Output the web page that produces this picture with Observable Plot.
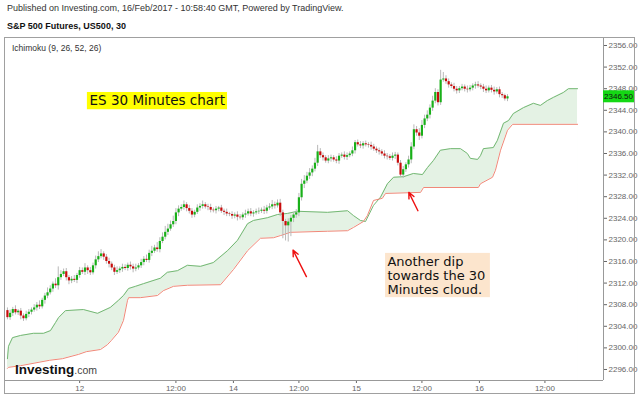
<!DOCTYPE html>
<html><head><meta charset="utf-8">
<script src="https://cdn.jsdelivr.net/npm/d3@7"></script>
<script src="https://cdn.jsdelivr.net/npm/@observablehq/plot@0.6"></script>
<style>
body{margin:0;background:#fff;}
#wrap{position:relative;width:640px;height:396px;overflow:hidden;font-family:"Liberation Sans",Arial,sans-serif;background:#fff;}
.hdr1{position:absolute;left:7px;top:3px;font-size:9px;color:#333;white-space:nowrap;}
.hdr2{position:absolute;left:7px;top:21px;font-size:9px;font-weight:bold;color:#111;white-space:nowrap;}
#chart{position:absolute;left:0;top:37px;}
#frame{position:absolute;left:4px;top:37px;width:631px;height:357px;box-sizing:border-box;border:1px solid #a0a0a0;pointer-events:none;}
.ichi{position:absolute;left:12px;top:43px;font-size:8.5px;color:#333;white-space:nowrap;}
.logo{position:absolute;left:15px;top:360px;white-space:nowrap;}
.logo b{font-size:13.5px;color:#111;font-weight:bold;}
.logo span{font-size:10.5px;color:#444;}
</style></head><body>
<div id="wrap">
  <div class="hdr1">Published on Investing.com, 16/Feb/2017 - 10:58:40 GMT, Powered by TradingView.</div>
  <div class="hdr2">S&amp;P 500 Futures, US500, 30</div>
  <div id="chart"></div>
  <div id="frame"></div>
  <div class="ichi">Ichimoku (9, 26, 52, 26)</div>
  <div class="logo"><b>Investing</b><span>.com</span></div>
</div>
<script>
// ---- data (30-minute bars, indexed by bar number) ----
const firstOpen = 2306.9;
const closes = [
2305.6,2306.4,2307.1,2306.5,2306.8,2305.9,2305.4,2306.2,2306.6,2307.0,
2307.4,2307.9,2307.6,2308.8,2309.6,2310.2,2310.9,2311.8,2311.5,2313.0,
2313.6,2314.1,2313.0,2312.4,2312.7,2312.5,2313.4,2314.3,2314.0,2314.8,
2314.3,2313.9,2315.2,2316.3,2316.9,2317.4,2316.8,2316.0,2315.5,2314.8,
2314.0,2314.3,2314.6,2314.9,2314.7,2315.3,2315.0,2314.6,2314.8,2315.2,
2315.8,2316.4,2316.2,2317.5,2317.9,2318.5,2318.2,2319.7,2320.5,2321.4,
2322.0,2322.8,2323.4,2325.0,2325.7,2326.0,2326.5,2325.8,2325.3,2324.6,
2325.1,2325.9,2326.2,2326.5,2326.1,2326.0,2325.5,2325.4,2325.7,2325.9,
2325.3,2325.1,2324.8,2324.7,2324.4,2324.6,2324.2,2324.1,2324.6,2324.8,
2325.2,2324.8,2325.0,2325.2,2325.3,2325.5,2325.3,2325.9,2326.1,2326.5,
2326.3,2326.8,2325.0,2323.4,2322.6,2323.3,2324.0,2324.6,2325.0,2327.8,
2330.3,2330.9,2331.8,2332.4,2333.1,2334.2,2336.3,2335.6,2335.2,2334.6,
2335.0,2335.2,2334.8,2334.6,2335.5,2335.7,2335.3,2335.6,2335.9,2336.5,
2338.0,2337.6,2337.4,2337.8,2337.6,2337.5,2337.2,2336.8,2336.5,2336.3,
2335.9,2335.5,2335.4,2335.1,2335.5,2335.7,2334.2,2332.0,2333.0,2333.9,
2334.8,2337.2,2340.4,2339.8,2339.2,2341.2,2342.4,2343.1,2344.4,2345.7,
2347.3,2345.4,2349.6,2349.8,2349.3,2348.7,2348.4,2347.9,2347.6,2348.0,
2348.3,2347.9,2347.8,2348.1,2348.5,2348.7,2348.5,2348.3,2347.9,2347.6,
2348.1,2347.7,2347.4,2347.8,2346.9,2346.7,2346.1,2346.5
];
const wickUp = [
0.5,0.6,0.4,0.7,0.3,0.5,0.4,0.6,0.5,0.4,
0.6,0.5,0.8,0.4,0.5,0.9,0.6,0.4,1.0,2.0,
0.7,0.5,0.6,0.4,0.5,0.7,0.4,0.6,0.5,0.8,
0.4,0.6,0.5,0.7,0.9,0.8,0.4,0.5,0.6,0.4,
0.5,0.7,0.4,0.6,0.5,0.4,0.6,0.5,0.7,0.4,
0.6,0.5,0.8,0.6,0.9,0.5,1.0,0.7,0.8,1.1,
0.9,0.7,1.0,0.8,0.6,0.5,0.7,0.4,0.6,0.5,
0.4,0.6,0.5,0.7,0.4,0.5,0.6,0.4,0.5,0.3,
0.5,0.4,0.6,0.3,0.5,0.4,0.6,0.5,0.4,0.7,
0.5,0.6,0.4,0.5,0.6,0.4,0.7,0.5,0.6,0.8,
0.5,0.6,0.7,0.5,0.4,0.6,0.5,0.4,0.6,0.8,
0.9,1.0,0.7,0.8,0.6,0.9,1.2,0.6,0.5,0.4,
0.6,0.5,0.4,0.6,0.5,0.4,0.6,0.5,0.4,0.7,
0.4,0.5,0.6,0.4,0.5,0.4,0.6,0.5,0.4,0.5,
0.4,0.6,0.5,0.4,0.6,0.5,0.4,0.5,0.6,0.4,
0.7,0.8,0.9,0.6,0.8,0.9,0.7,0.8,0.6,0.9,
0.7,0.5,1.8,1.2,0.6,0.5,0.4,0.6,0.5,0.4,
0.5,0.4,0.6,0.5,0.4,0.5,0.6,0.4,0.5,0.6,
0.4,0.5,0.6,0.4,0.5,0.4,0.3,0.4
];
const wickDown = [
0.4,0.5,0.6,0.4,0.5,0.7,0.5,0.4,0.6,0.5,
0.4,0.6,0.5,0.4,0.7,0.5,0.4,0.6,0.5,0.8,
0.5,0.4,0.6,0.7,0.5,0.4,0.6,0.5,0.4,0.6,
0.7,0.5,0.4,0.6,0.5,0.4,0.6,0.5,0.7,0.5,
0.6,0.4,0.5,0.6,0.4,0.5,0.6,0.7,0.5,0.4,
0.5,0.6,0.4,0.5,0.6,0.4,0.5,0.6,0.4,0.5,
0.6,0.4,0.5,0.6,0.7,0.4,0.5,0.6,0.5,0.6,
0.5,0.4,0.6,0.5,0.4,0.6,0.5,0.4,0.6,0.5,
0.4,0.6,0.5,0.4,0.6,0.5,0.7,0.4,0.5,0.6,
0.4,0.5,0.6,0.4,0.5,0.4,0.6,0.5,0.4,0.5,
0.6,0.4,0.7,3.2,2.8,3.0,2.7,0.8,0.6,0.7,
0.6,0.8,0.5,0.6,0.7,0.5,0.6,0.5,0.6,0.4,
0.5,0.6,0.4,0.5,0.6,0.4,0.5,0.6,0.4,0.5,
0.6,0.4,0.5,0.6,0.4,0.5,0.6,0.4,0.5,0.6,
0.4,0.5,0.6,0.4,0.5,0.6,0.5,0.4,0.6,0.5,
0.6,0.7,0.5,0.6,0.8,0.5,0.6,0.5,0.7,0.6,
0.5,0.6,0.5,0.4,0.5,0.6,0.4,0.5,0.6,0.5,
0.4,0.5,0.6,0.4,0.5,0.6,0.4,0.5,0.6,0.5,
0.4,0.5,0.6,0.4,0.6,0.5,0.4,0.5
];
// Ichimoku cloud: Senkou Span A (green) and Senkou Span B (red), bar index / price
const spanABars = [0,0.4,1.9,4.9,9.7,13.5,16.1,18.0,19.1,21.7,28.4,33.7,38.5,41.5,43.4,45.3,47.9,50.9,57.2,59.8,63.6,67.3,72.2,77.0,82.3,86.0,89.8,92.0,97.2,101.0,104.7,108.5,119.7,127.2,129.4,132.0,133.9,136.9,139.5,142.1,144.4,148.1,151.8,155.2,157.1,159.3,161.9,165.7,169.4,172.0,173.1,175.8,176.9,178.0,181.7,183.2,185.5,187.4,189.2,193.0,196.7,199.3,201.9,204.2,207.9,209.8,213.2];
const spanAVals = [2298.0,2300.3,2301.9,2302.3,2302.7,2302.7,2303.2,2304.7,2305.6,2306.9,2307.1,2306.4,2307.5,2308.8,2309.7,2311.0,2311.4,2311.9,2312.9,2314.0,2314.3,2315.3,2315.1,2315.8,2318.0,2319.9,2323.0,2323.6,2324.1,2324.7,2324.9,2325.3,2325.1,2325.4,2324.5,2323.6,2323.4,2326.4,2327.9,2330.4,2331.6,2331.7,2332.3,2332.1,2333.4,2334.7,2336.6,2336.9,2336.9,2336.0,2335.1,2334.9,2335.6,2336.9,2337.1,2338.4,2341.6,2342.1,2343.4,2344.5,2345.3,2344.9,2345.8,2346.4,2347.3,2348.0,2348.0];
const spanBBars = [0,0.4,4.9,15.7,20.6,26.6,29.5,34.8,37.4,38.9,41.5,43.4,44.9,45.3,49.7,56.1,58.3,62.1,67.3,79.7,84.5,89.8,94.6,99.5,102.1,105.8,119.7,127.2,129.4,133.1,134.6,136.9,140.2,141.4,154.5,155.6,176.1,176.9,181.4,182.5,184.4,187.0,188.9,213.2];
const spanBVals = [2296.2,2296.4,2296.7,2297.7,2298.0,2298.8,2299.3,2299.7,2300.6,2301.4,2302.9,2305.1,2308.8,2309.3,2309.3,2309.7,2310.6,2311.4,2311.6,2311.7,2314.5,2318.0,2320.3,2320.4,2320.8,2321.4,2321.6,2321.7,2322.3,2323.4,2324.5,2327.3,2327.7,2328.6,2328.8,2329.7,2329.7,2330.4,2331.6,2332.9,2336.6,2340.3,2341.4,2341.4];
// axes
const yTicks = [2296,2300,2304,2308,2312,2316,2320,2324,2328,2332,2336,2340,2344,2348,2352,2356];
const xTickBars = [27,63,84.5,109,130.5,155,176.5,201];
const xTickLabels = ["12","12:00","14","12:00","15","12:00","16","12:00"];
const xDomain = [-1.1, 222.9];
const yDomain = [2293.96, 2357.48];
// annotations
const noteTexts = ["ES 30 Minutes chart", "Another dip\ntowards the 30\nMinutes cloud."];
const noteX = [30.7, 142.1];
const noteY = [2345.7, 2313.4];
const noteSize = [13.5, 13];
const noteBoxX1 = [29.9, 141.4], noteBoxX2 = [82.3, 180.6];
const noteBoxY1 = [2344.1, 2309.3], noteBoxY2 = [2347.3, 2317.5];
const noteFill = ["#ffff00", "#fce5cd"];
const arrowTailX = [111.8, 153.5], arrowTailY = [2313.2, 2325.4];
const arrowTipX = [106.8, 150.1], arrowTipY = [2318.1, 2328.8];

// ---- build ----
const bars = closes.map((c, i) => {
  const o = i === 0 ? firstOpen : closes[i - 1];
  return {i, o, c, h: Math.max(o, c) + wickUp[i], l: Math.min(o, c) - wickDown[i], up: c >= o};
});
const spanA = spanABars.map((b, k) => ({b, v: spanAVals[k]}));
const spanB = spanBBars.map((b, k) => ({b, v: spanBVals[k]}));
const notes = noteTexts.map((t, k) => ({t, x: noteX[k], y: noteY[k], s: noteSize[k], x1: noteBoxX1[k], x2: noteBoxX2[k], y1: noteBoxY1[k], y2: noteBoxY2[k], fill: noteFill[k]}));
const arrows = arrowTailX.map((x, k) => ({x1: x, y1: arrowTailY[k], x2: arrowTipX[k], y2: arrowTipY[k]}));

const chart = Plot.plot({
  width: 640, height: 359,
  marginLeft: 4, marginRight: 37, marginTop: 0, marginBottom: 16,
  style: {fontFamily: "'Liberation Sans', Arial, sans-serif", fontSize: "8px", color: "#666", background: "transparent"},
  x: {domain: xDomain, axis: "bottom", ticks: xTickBars, tickFormat: d => xTickLabels[xTickBars.indexOf(d)], tickSize: 3, tickPadding: 2, label: null},
  y: {domain: yDomain, axis: "right", ticks: yTicks, tickFormat: d => d.toFixed(2), tickSize: 3, tickPadding: 2, label: null},
  marks: [
    Plot.areaY(spanA, {x: "b", y1: yDomain[0], y2: "v", fill: "#e4f2e4", curve: "linear"}),
    Plot.areaY(spanB, {x: "b", y1: yDomain[0], y2: "v", fill: "#ffffff", curve: "linear"}),
    Plot.line(spanA, {x: "b", y: "v", stroke: "#74b874", strokeWidth: 1}),
    Plot.line(spanB, {x: "b", y: "v", stroke: "#f08878", strokeWidth: 1}),
    Plot.ruleX(bars, {x: "i", y1: "l", y2: "h", stroke: "#b8b8b8", strokeWidth: 1}),
    Plot.ruleX(bars.filter(d => d.up), {x: "i", y1: "o", y2: "c", stroke: "#19b019", strokeWidth: 2.2}),
    Plot.ruleX(bars.filter(d => !d.up), {x: "i", y1: "o", y2: "c", stroke: "#c80c0c", strokeWidth: 2.2}),
    Plot.rect(notes, {x1: "x1", x2: "x2", y1: "y1", y2: "y2", fill: "fill"}),
    Plot.text(notes.slice(0, 1), {x: "x", y: "y", text: "t", textAnchor: "start", lineAnchor: "middle", fontFamily: "DejaVu Sans", fontSize: 13.5, fill: "#111"}),
    Plot.text(notes.slice(1), {x: "x", y: "y", text: "t", textAnchor: "start", lineAnchor: "middle", lineHeight: 1.05, fontFamily: "DejaVu Sans", fontSize: 13, fill: "#111"}),
    Plot.arrow(arrows, {x1: "x1", y1: "y1", x2: "x2", y2: "y2", stroke: "#ee1111", strokeWidth: 1.4, headLength: 7, headAngle: 50}),
    Plot.ruleY([yDomain[0]], {stroke: "#999"}),
    Plot.ruleX([xDomain[1]], {stroke: "#999"})
  ]
});
document.getElementById("chart").appendChild(chart);

// last-price tag on the price axis
const last = closes[closes.length - 1];
const py = chart.scale("y").apply(last);
const px = chart.scale("x").apply(xDomain[1]);
const svg = d3.select(chart);
svg.append("rect").attr("x", px).attr("y", py - 6).attr("width", 31).attr("height", 12).attr("fill", "#14d814");
svg.append("text").attr("x", px + 15.5).attr("y", py + 3).attr("text-anchor", "middle")
  .attr("font-size", 8).attr("fill", "#111").text(last.toFixed(2));
</script>
</body></html>
